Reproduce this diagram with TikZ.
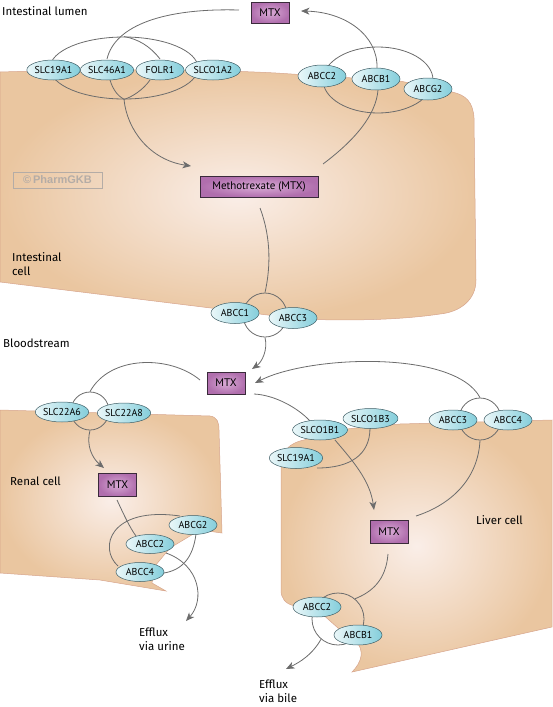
\documentclass[tikz,border=0pt]{standalone}
\usepackage{fontspec}
\setmainfont{PT Sans}
\newfontfamily\comic{Fira Sans}
\newfontfamily\wmfont{Liberation Sans}
\usetikzlibrary{shapes.geometric,arrows.meta}
\definecolor{lin}{HTML}{6C6C6C}
\definecolor{cellin}{HTML}{FAEEE8}
\definecolor{cellout}{HTML}{EAC6A0}
\definecolor{cellb}{HTML}{D7A48C}
\definecolor{ovl}{HTML}{EAF7F9}
\definecolor{ovr}{HTML}{84CEDB}
\definecolor{protb}{HTML}{3F5E66}
\definecolor{mtxin}{HTML}{D9ABD6}
\definecolor{mtxout}{HTML}{B06EAD}
\definecolor{mtxb}{HTML}{3A2A3A}
\definecolor{wmc}{HTML}{B4ACA6}
\begin{document}
\begin{tikzpicture}[x=1pt,y=-1pt,
  prot/.style={ellipse, draw=protb, line width=0.5pt, left color=ovl, right color=ovr,
    minimum width=48pt, minimum height=20pt, inner sep=0pt, font=\fontsize{10}{11}\selectfont},
  mtxbox/.style={rectangle, draw=mtxb, line width=0.8pt, inner color=mtxin, outer color=mtxout,
    minimum width=38pt, minimum height=22pt, inner sep=0pt, font=\fontsize{11}{12}\selectfont},
  conn/.style={draw=lin, line width=0.8pt},
  arr/.style={conn, -{Stealth[length=8.5pt,width=7pt,inset=2.5pt]}},
  ring/.style={draw=lin, line width=0.8pt, inner sep=0pt},
  cell/.style={draw=cellb, line width=0.5pt, inner color=cellin, outer color=cellout},
  lab/.style={font=\comic\fontsize{11.5}{14}\selectfont, anchor=west, align=left, inner sep=0pt}
]
\useasboundingbox (0,0) rectangle (552,707);
% cells
\shadedraw[cell] (0,72) .. controls (100,69) and (200,69) .. (276,73) -- (400,81) -- (452,92)
  .. controls (466,95) and (473,102) .. (474,118) -- (476,280)
  .. controls (476,300) and (460,312) .. (440,314) .. controls (400,320) and (350,321) .. (300,319)
  -- (0,282) -- cycle;
\shadedraw[cell] (0,410) -- (210,416) .. controls (217,417) and (219,422) .. (219,430) -- (222,533)
  -- (200,530) -- (170,548) -- (155,566) -- (152,583) -- (166,591) -- (100,580) -- (0,573) -- cycle;
\shadedraw[cell] (281,470) .. controls (282,455) and (284,446) .. (300,441) -- (346,429) -- (400,424) -- (552,420)
  -- (552,627) -- (352,672) .. controls (362,662) and (365,650) .. (355,640) -- (338,628)
  -- (320,612) -- (295,606) .. controls (285,604) and (281,598) .. (281,590) -- cycle;

% watermark
\node[draw=wmc, line width=0.8pt, text=wmc, font=\wmfont\bfseries\fontsize{11}{12}\selectfont,
  minimum width=89pt, minimum height=16pt, inner sep=0pt] (wmk) at (57.5,180) {©\,PharmGKB};

% labels
\node[lab] (lumen) at (2,11) {Intestinal lumen};
\node[lab] (icell) at (12,264) {Intestinal\\cell};
\node[lab] (blood) at (3,343) {Bloodstream};
\node[lab] (renal) at (10,481) {Renal cell};
\node[lab] (liver) at (476,520) {Liver cell};
\node[lab] (effu) at (139,639) {Efflux\\via urine};
\node[lab] (effb) at (259,691) {Efflux\\via bile};

% rings behind transporters
\node[ring, ellipse, minimum width=148pt, minimum height=62pt] (ring0) at (124,68) {};
\node[ring, ellipse, minimum width=110pt, minimum height=66pt] (ring3) at (378,80) {};
\node[ring, circle, minimum size=44pt] (ring1) at (265,315) {};
\node[ring, circle, minimum size=38pt] (ring2) at (90,411) {};
\node[ring, circle, minimum size=42pt] (ring4) at (480,419) {};
\node[ring, circle, minimum size=52pt] (ring5) at (338,619) {};

% MTX boxes
\node[mtxbox, minimum height=21pt] (mtxT) at (270,12.5) {MTX};
\node[mtxbox, minimum width=118pt, minimum height=21pt] (mtxM) at (259,186.5) {Methotrexate (MTX)};
\node[mtxbox] (mtxB) at (226,383) {MTX};
\node[mtxbox, minimum height=23pt] (mtxR) at (117.5,484.5) {MTX};
\node[mtxbox, minimum height=23pt] (mtxL) at (389,531.5) {MTX};

% free ends
\coordinate (tT) at (301,11);
\coordinate (mT1) at (239,10);
\coordinate (tM) at (191,166);
\coordinate (mM2) at (323,164);
\coordinate (mMb) at (260,208);
\coordinate (tB1) at (252,369);
\coordinate (tB2) at (255,383);
\coordinate (mB1) at (200,380);
\coordinate (mB2) at (254,394);
\coordinate (tR) at (104,468);
\coordinate (mRb) at (117,500);
\coordinate (tU) at (186,621);
\coordinate (tL) at (374,510);
\coordinate (mLr) at (416,516);
\coordinate (mLb) at (388,554);
\coordinate (tBi) at (286,669);

% connectors (top)
\draw[conn] (mT1) .. controls (165,8) and (115,25) .. (107,59);
\draw[conn] (160,59) .. controls (150,46) and (138,39) .. (ring0.north);
\draw[conn] (110,80) .. controls (113,90) and (118,96) .. (ring0.south);
\draw[conn] (150,80) .. controls (143,90) and (132,97) .. (ring0.south);
\draw[arr] (ring0.south) .. controls (127,130) and (150,160) .. (tM);
\draw[conn] (mM2) .. controls (355,140) and (376,115) .. (378,90);
\draw[arr] (377,68) .. controls (378,35) and (345,12) .. (tT);
\draw[conn] (mMb) .. controls (272,240) and (270,270) .. (ring1.north);
\draw[arr] (ring1.south) .. controls (268,350) and (262,362) .. (tB1);
\draw[arr] (ring4.north) .. controls (455,350) and (310,355) .. (tB2);
\draw[conn] (mB1) .. controls (170,355) and (110,355) .. (ring2.north);
\draw[arr] (ring2.south) .. controls (86,445) and (92,458) .. (tR);
% renal
\draw[conn] (mRb) .. controls (124,515) and (130,528) .. (136,536);
\draw[conn] (180,516) .. controls (110,506) and (98,548) .. (118,566);
\draw[conn] (196,534) .. controls (193,558) and (182,570) .. (164,573);
\draw[arr] (166,553) .. controls (200,565) and (205,600) .. (tU);
% liver
\draw[conn] (mB2) .. controls (275,395) and (298,408) .. (310,421);
\draw[conn] (370,428) .. controls (370,455) and (350,468) .. (317,468);
\draw[arr] (335,440) .. controls (352,460) and (370,480) .. (tL);
\draw[conn] (ring4.south) .. controls (478,480) and (450,505) .. (mLr);
\draw[conn] (mLb) .. controls (386,580) and (372,592) .. (ring5.50);
\draw[arr] (ring5.-130) .. controls (312,655) and (300,662) .. (tBi);

% transporters
\node[prot, minimum width=46pt] (s19) at (53.5,70) {SLC19A1};
\node[prot] (s46) at (107,70) {SLC46A1};
\node[prot] (folr) at (160,70) {FOLR1};
\node[prot] (sco) at (213,70) {SLCO1A2};
\node[prot, minimum height=22pt] (c2t) at (322,76) {ABCC2};
\node[prot, minimum height=22pt] (b1t) at (376,79) {ABCB1};
\node[prot, minimum height=22pt] (g2t) at (428,89) {ABCG2};
\node[prot, minimum height=21pt] (c1) at (235,313) {ABCC1};
\node[prot, minimum height=21pt] (c3) at (293,318) {ABCC3};
\node[prot] (a6) at (62,412) {SLC22A6};
\node[prot] (a8) at (124,413) {SLC22A8};
\node[prot, minimum height=19pt] (g2r) at (193,525) {ABCG2};
\node[prot, minimum height=19pt] (c2r) at (150,544) {ABCC2};
\node[prot, minimum height=19pt] (c4r) at (140,572) {ABCC4};
\node[prot] (o1b1) at (320,430) {SLCO1B1};
\node[prot] (o1b3) at (370.5,418.5) {SLCO1B3};
\node[prot, minimum height=21pt] (s19l) at (296,458) {SLC19A1};
\node[prot] (c3l) at (453,420) {ABCC3};
\node[prot] (c4l) at (508,420) {ABCC4};
\node[prot] (c2l) at (317,607) {ABCC2};
\node[prot] (b1l) at (358,635) {ABCB1};
\end{tikzpicture}
\end{document}
